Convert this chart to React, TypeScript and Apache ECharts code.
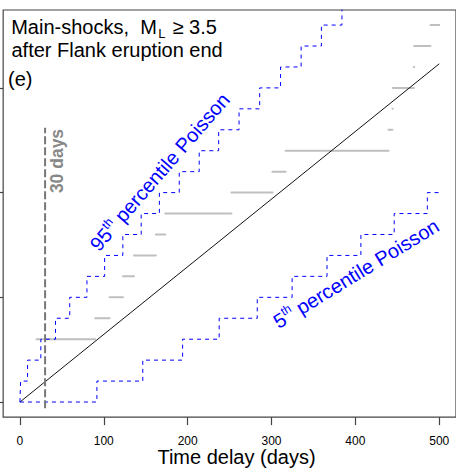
import React, { useEffect, useRef } from "react";
import * as echarts from "echarts";

// ---- axes ----
const xTickValues = [0, 100, 200, 300, 400, 500];
const yTickValues = [0, 5, 10, 15];
const xRange = [-20, 520];
const yRange = [-0.72, 18.72];

// ---- observed main-shock times (days after flank eruption end) ----
const eventDays = [19.8, 19.8, 19.8, 89.7, 106.9, 122.9, 136.0, 162.1, 173.4, 252.2, 301.1, 316.8, 439.5, 444.2, 444.6, 469.8, 470.2, 489.6];
const observationEndDay = 500;

// ---- expected (mean) cumulative count ----
const meanLineDays = [0, 500];
const meanLineCounts = [0, 16.15];

// ---- Poisson percentile step curves: day at which count rises by one ----
const p95StepDays = [0.8, 9.1, 24.9, 42.4, 59.4, 79.9, 101.0, 122.7, 144.6, 166.3, 190.0, 213.8, 237.0, 261.3, 285.9, 310.8, 335.3, 359.5, 384.0];
const p05StepDays = [91.8, 146.5, 194.0, 237.6, 283.0, 324.6, 366.2, 406.6, 446.3, 485.8];

// ---- 30-day marker ----
const cutoffDay = 30;
const cutoffSpan = [-0.3, 13.1];

const FONT = '"Liberation Sans", Arial, Helvetica, sans-serif';
const C = 0.3465; // central-baseline offset (em) for Liberation Sans

function measure(text: string, size: number, weight = "normal") {
  const ctx = document.createElement("canvas").getContext("2d")!;
  ctx.font = `${weight} ${size}px ${FONT}`;
  return ctx.measureText(text).width;
}

function stepData(days: number[]) {
  const pts: number[][] = [[0, 0]];
  days.forEach((d, i) => pts.push([d, i + 1]));
  pts.push([observationEndDay, days.length]);
  return pts;
}

function txt(x: number, y: number, text: string, size: number, fill: string, extra: any = {}) {
  return {
    type: "text",
    x,
    y,
    silent: true,
    style: {
      text,
      fontSize: size,
      fontFamily: FONT,
      fill,
      align: "left",
      verticalAlign: "middle",
      textAlign: "left",
      textVerticalAlign: "middle",
      ...extra,
    },
  };
}

// baseline-based helper: y is the alphabetic baseline
function btxt(x: number, baseline: number, text: string, size: number, fill: string, extra: any = {}) {
  return txt(x, baseline - C * size, text, size, fill, extra);
}

function rotatedLabel(cx: number, cy: number, deg: number, base: string, sup: string, rest: string, color: string) {
  const fs = 20;
  const ss = 12;
  const w1 = measure(base, fs);
  const w2 = measure(sup, ss);
  const w3 = measure(rest, fs);
  const W = w1 + w2 + w3;
  const x0 = -W / 2;
  const baseLine = 5.2;
  return {
    type: "group",
    x: cx,
    y: cy,
    rotation: (deg * Math.PI) / 180,
    silent: true,
    children: [
      btxt(x0, baseLine, base, fs, color),
      btxt(x0 + w1, baseLine - 8.5, sup, ss, color),
      btxt(x0 + w1 + w2, baseLine, rest, fs, color),
    ],
  };
}

export default function App() {
  const ref = useRef<HTMLDivElement>(null);

  useEffect(() => {
    if (!ref.current) return;
    const chart = echarts.init(ref.current, null, { renderer: "svg" });

    const segments = eventDays.map((d, i) => [
      d,
      i + 1 < eventDays.length ? eventDays[i + 1] : observationEndDay,
      i + 1,
    ]);

    const gridLeft = 3.16;
    const gridTop = 10;
    const gridWidth = 454.6;
    const gridHeight = 407.1;

    const option: any = {
      animation: false,
      backgroundColor: "#ffffff",
      textStyle: { fontFamily: FONT },
      grid: {
        left: gridLeft,
        top: gridTop,
        width: gridWidth,
        height: gridHeight,
        show: true,
        borderColor: "#444",
        borderWidth: 1.2,
        backgroundColor: "transparent",
        containLabel: false,
      },
      xAxis: {
        type: "value",
        min: xRange[0],
        max: xRange[1],
        position: "bottom",
        axisLine: { show: false, onZero: false },
        splitLine: { show: false },
        axisTick: {
          show: true,
          customValues: xTickValues,
          length: 8,
          inside: false,
          lineStyle: { color: "#444", width: 1.2 },
        },
        axisLabel: {
          show: true,
          customValues: xTickValues,
          margin: 17.5,
          fontSize: 12,
          lineHeight: 12,
          color: "#000",
          fontFamily: FONT,
        },
      },
      yAxis: {
        type: "value",
        min: yRange[0],
        max: yRange[1],
        position: "left",
        axisLine: { show: false, onZero: false },
        splitLine: { show: false },
        axisTick: {
          show: true,
          customValues: yTickValues,
          length: 8,
          inside: false,
          lineStyle: { color: "#444", width: 1.2 },
        },
        axisLabel: { show: false, customValues: yTickValues },
      },
      series: [
        {
          type: "custom",
          name: "observed",
          data: segments,
          encode: { x: [0, 1], y: 2 },
          silent: true,
          renderItem: (_params: any, api: any) => {
            const a = api.coord([api.value(0), api.value(2)]);
            const b = api.coord([api.value(1), api.value(2)]);
            return {
              type: "line",
              shape: { x1: a[0], y1: a[1], x2: b[0], y2: b[1] },
              style: { stroke: "#bfbfbf", lineWidth: 2, lineCap: "round" },
            };
          },
        },
        {
          type: "line",
          name: "mean",
          data: meanLineDays.map((d, i) => [d, meanLineCounts[i]]),
          symbol: "none",
          silent: true,
          lineStyle: { color: "#111", width: 1 },
        },
        {
          type: "line",
          name: "p95",
          data: stepData(p95StepDays),
          step: "end",
          symbol: "none",
          silent: true,
          clip: true,
          lineStyle: { color: "#0000ff", width: 1, type: [4, 4] },
        },
        {
          type: "line",
          name: "p05",
          data: stepData(p05StepDays),
          step: "end",
          symbol: "none",
          silent: true,
          clip: true,
          lineStyle: { color: "#0000ff", width: 1, type: [4, 4] },
        },
        {
          type: "line",
          name: "cutoff",
          data: cutoffSpan.map((v) => [cutoffDay, v]),
          symbol: "none",
          silent: true,
          lineStyle: { color: "#777", width: 2, type: [8, 3] },
        },
      ],
      graphic: {
        elements: [
          btxt(11.2, 34.3, "Main-shocks,", 20, "#000"),
          btxt(140.2, 34.3, "M", 20, "#000"),
          btxt(158.3, 38.3, "L", 13, "#000", { lineHeight: 10 }),
          btxt(172.5, 34.3, "\u2265 3.5", 20, "#000"),
          btxt(11.5, 56.7, "after Flank eruption end", 20, "#000", { lineHeight: 18 }),
          btxt(8, 85.5, "(e)", 20, "#000"),
          txt(236.5, 464.3 - C * 20, "Time delay (days)", 20, "#000", {
            align: "center",
            textAlign: "center",
            lineHeight: 18,
          }),
          {
            type: "text",
            x: 56.5,
            y: 161,
            rotation: Math.PI / 2,
            silent: true,
            style: {
              text: "30 days",
              fontSize: 17.5,
              fontWeight: "bold",
              fontFamily: FONT,
              fill: "#888",
              align: "center",
              verticalAlign: "middle",
              textAlign: "center",
              textVerticalAlign: "middle",
            },
          },
          rotatedLabel(161, 173, 49, "95", "th", " percentile Poisson", "#0000ff"),
          rotatedLabel(357, 275, 31.5, "5", "th", " percentile Poisson", "#0000ff"),
        ],
      },
    };

    chart.setOption(option);
    return () => chart.dispose();
  }, []);

  return (
    <div
      ref={ref}
      style={{ position: "absolute", left: 0, top: 0, width: 456, height: 469, background: "#fff" }}
    />
  );
}
